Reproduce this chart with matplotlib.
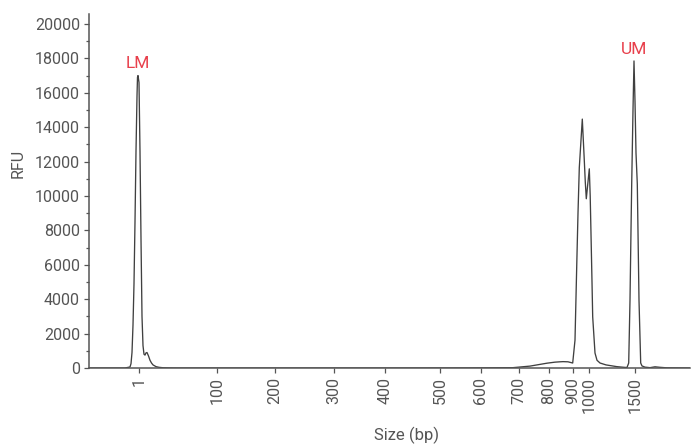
import matplotlib
matplotlib.use('Agg')
import matplotlib.pyplot as plt
from matplotlib.ticker import MultipleLocator

plt.rcParams['font.family'] = ['Roboto', 'DejaVu Sans']

# migration position (arbitrary units) and signal
position = [0, 36, 41, 42, 43, 44, 45, 46, 47, 48, 48.5, 49, 50, 51, 52, 53, 54, 55,
            56, 57, 58, 59.5, 61, 62.5, 64, 67, 70, 74, 80, 86, 100,
            300, 380, 424, 441, 458, 466, 471, 474, 479, 483.7, 486, 487.7, 489,
            490.3, 493.3, 495.3, 496.3, 497.3, 500.3, 501.2, 502, 503, 503.7,
            506, 508, 511, 517, 527.7, 535, 538, 539.7, 541, 542, 542.7, 544,
            545, 546, 547, 548.3, 550, 551.7, 553, 556, 561, 566, 571, 578, 601]
rfu = [0, 0, 60, 250, 900, 2500, 4900, 8500, 12600, 15800, 16900, 17000, 16600,
       12600, 7500, 3000, 1300, 800, 750, 880, 900, 700, 450, 290, 180, 80, 40, 15, 5, 0, 0,
       0, 5, 20, 110, 280, 340, 360, 370, 360, 290, 1620, 5860, 9000,
       11650, 14470, 12060, 10800, 9840, 11580, 10000, 7800, 5000, 2970,
       870, 450, 290, 180, 80, 40, 30, 290, 3940, 8000, 10700, 15000,
       17850, 15500, 12500, 10700, 3940, 290, 120, 50, 20, 70, 40, 10, 0]

# sizing ladder: tick label (bp) and matching position
size_labels = ['1', '100', '200', '300', '400', '500', '600', '700', '800', '900', '1000', '1500']
size_positions = [50, 128, 186, 245, 296, 351, 392, 430, 460, 484, 500, 546]

# markers
marker_names = ['LM', 'UM']
marker_pos = [48.7, 545]
marker_rfu = [17000, 17850]

txt = '#555555'

fig = plt.figure(figsize=(6.92, 4.44), dpi=100)
ax = fig.add_axes([89/692, 76/444, 601/692, 354/444])

ax.plot(position, rfu, color='#404040', lw=0.95)

for name, x, y in zip(marker_names, marker_pos, marker_rfu):
    ax.annotate(name, (x, y), xytext=(0, 3), textcoords='offset points',
                ha='center', va='bottom', color='#e8404c', fontsize=12.5)

ax.set_xlim(0, 601)
ax.set_ylim(0, 20580)
ax.set_xticks(size_positions)
ax.set_xticklabels(size_labels, rotation=90, va='top', ha='center')
ax.yaxis.set_major_locator(MultipleLocator(2000))
ax.yaxis.set_minor_locator(MultipleLocator(1000))

for s in ['top', 'right']:
    ax.spines[s].set_visible(False)
for s in ['left', 'bottom']:
    ax.spines[s].set_color('#555555')
    ax.spines[s].set_linewidth(1.1)

ax.tick_params(axis='both', which='major', colors=txt, labelcolor=txt,
               labelsize=11.5, length=3.5, width=0.9, pad=3)
ax.tick_params(axis='y', which='minor', colors=txt, length=2.5, width=0.9)

ax.set_ylabel('RFU', color=txt, fontsize=11.5, va='center')
ax.yaxis.set_label_coords((18 - 89) / 601, (368 - 163) / 354)
ax.set_xlabel('Size (bp)', color=txt, fontsize=12, va='center')
ax.xaxis.set_label_coords((406 - 89) / 601, (368 - 435) / 354)

fig.savefig('out.png', dpi=100)
